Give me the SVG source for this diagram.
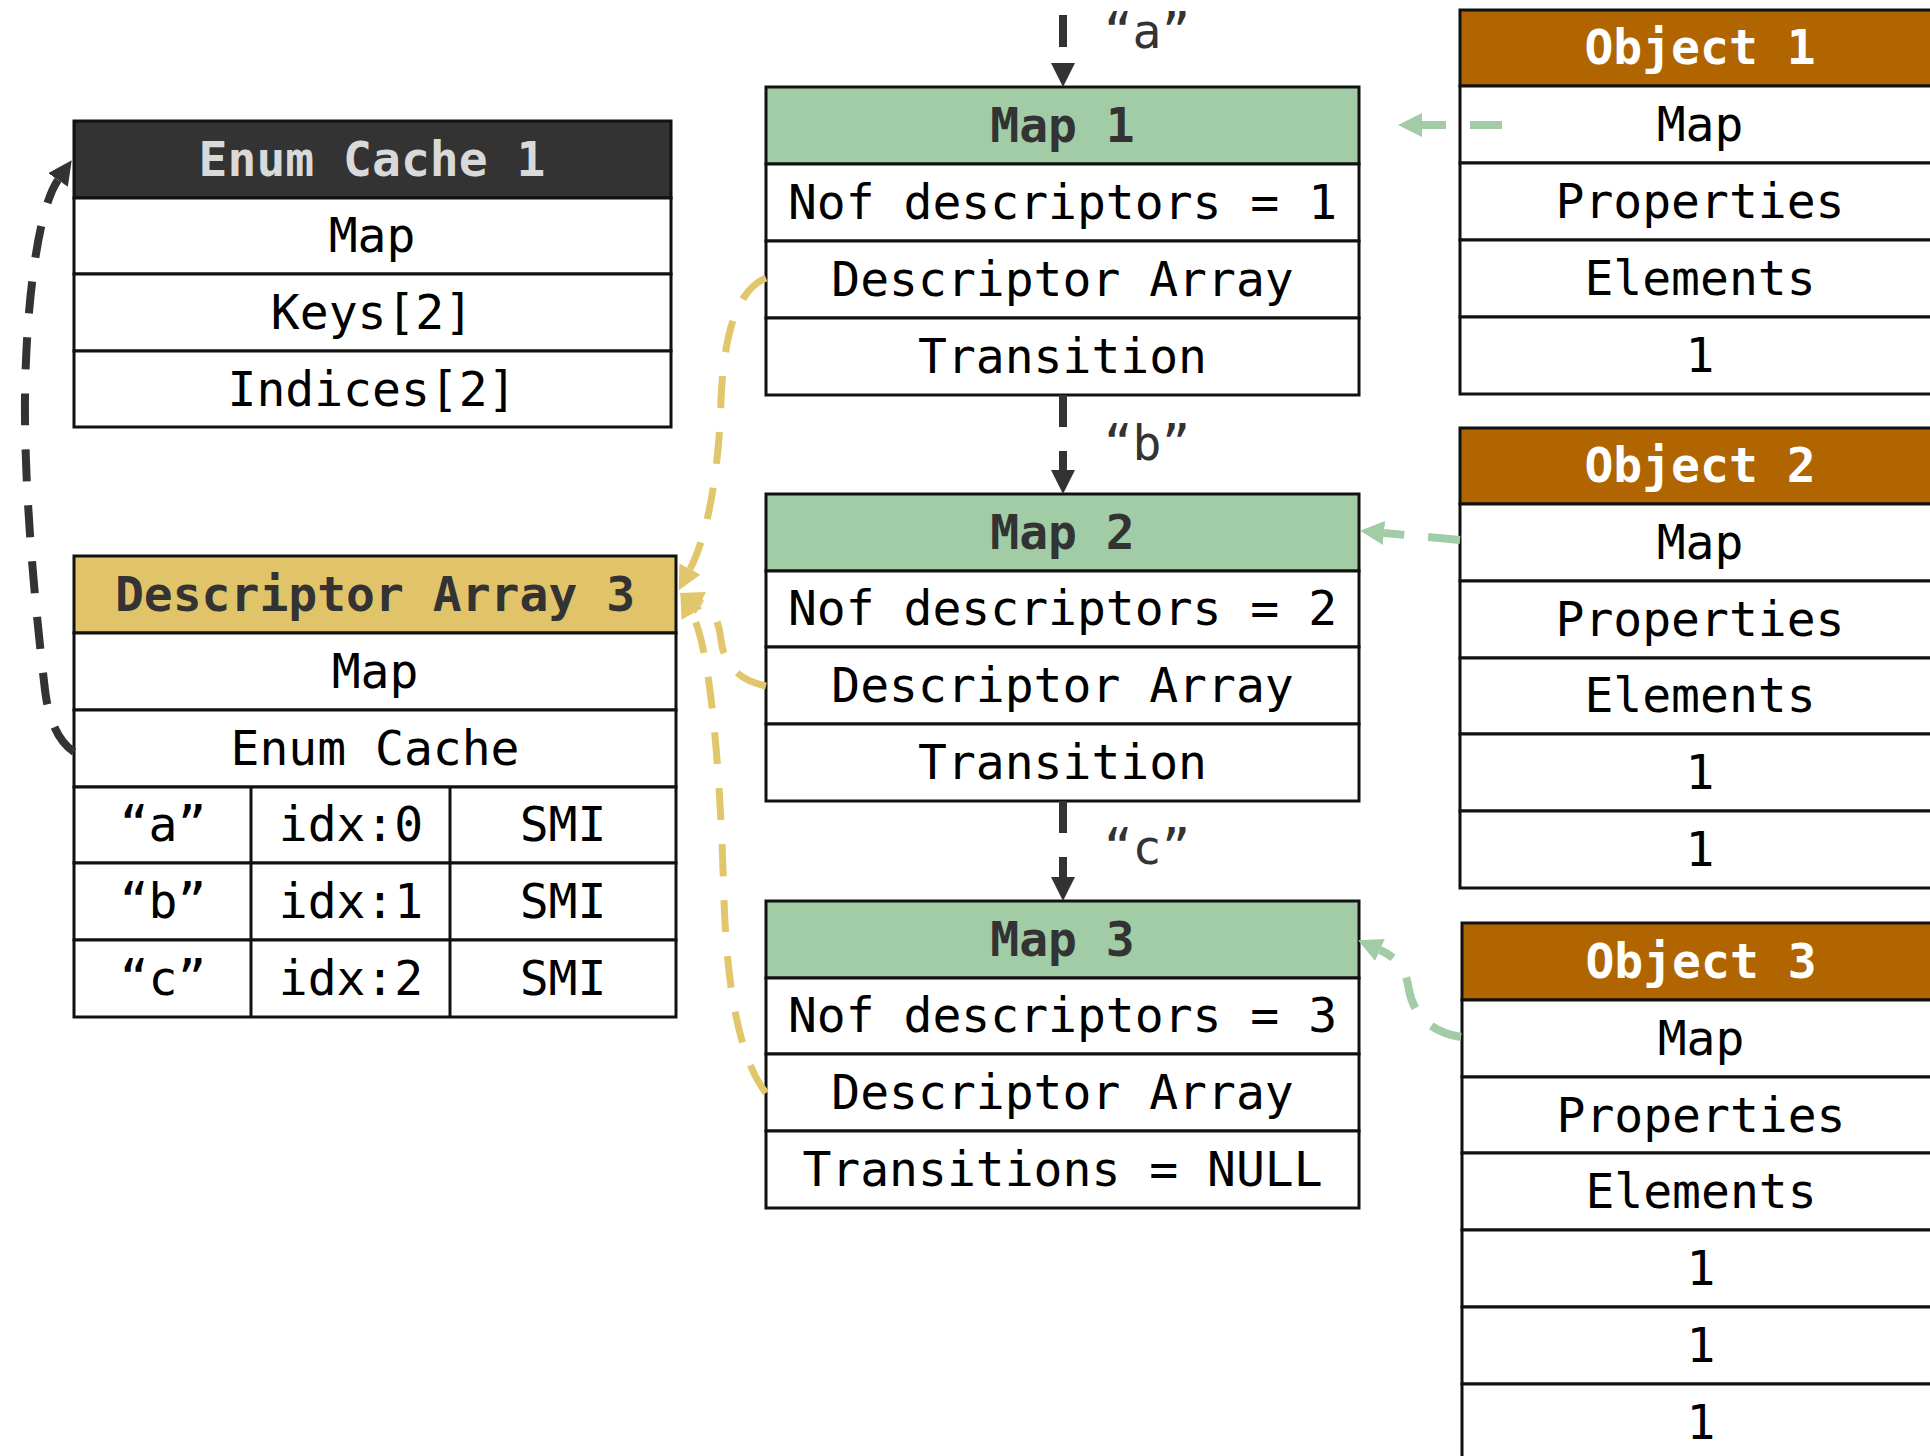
<svg xmlns="http://www.w3.org/2000/svg" width="1930" height="1456" viewBox="0 0 1930 1456">
<style>
.cell{fill:#fff;stroke:#111;stroke-width:3}
.t{font-family:"DejaVu Sans Mono","Liberation Mono",monospace;font-size:48px;text-anchor:middle;fill:#000}
.h{font-weight:bold}
.lbl{font-family:"DejaVu Sans Mono","Liberation Mono",monospace;font-size:48px;text-anchor:middle;fill:#333}
.hd-dark{fill:#333;stroke:#111;stroke-width:3}
.hd-green{fill:#a2cca6;stroke:#111;stroke-width:3}
.hd-yellow{fill:#e1c46a;stroke:#111;stroke-width:3}
.hd-brown{fill:#b06500;stroke:#111;stroke-width:3}
.c-dark{fill:none;stroke:#333;stroke-width:8;stroke-dasharray:32 24}
.c-green{fill:none;stroke:#a2cca6;stroke-width:8;stroke-dasharray:32 24}
.c-yellow{fill:none;stroke:#e2c66b;stroke-width:7;stroke-dasharray:32 24}
</style>
<defs>
<marker id="ad" viewBox="0 0 24 24" markerWidth="24" markerHeight="24" markerUnits="userSpaceOnUse" refX="0" refY="12" orient="auto"><path d="M0,0 L24,12 L0,24 z" fill="#333"/></marker>
<marker id="ag" viewBox="0 0 24 24" markerWidth="24" markerHeight="24" markerUnits="userSpaceOnUse" refX="0" refY="12" orient="auto"><path d="M0,0 L24,12 L0,24 z" fill="#a2cca6"/></marker>
<marker id="ay" viewBox="0 0 24 24" markerWidth="24" markerHeight="24" markerUnits="userSpaceOnUse" refX="0" refY="12" orient="auto"><path d="M0,0 L24,12 L0,24 z" fill="#e2c66b"/></marker>
</defs>
<rect width="1930" height="1456" fill="#fff"/>

<g id="enum-cache-1">
<rect class="hd-dark" x="74" y="121" width="597" height="77"/>
<rect class="cell" x="74" y="198" width="597" height="76"/>
<rect class="cell" x="74" y="274" width="597" height="77"/>
<rect class="cell" x="74" y="351" width="597" height="76"/>
<text class="t h" x="372" y="175.5" fill="#d9d9d9" style="fill:#d9d9d9">Enum Cache 1</text>
<text class="t" x="372" y="252">Map</text>
<text class="t" x="372" y="328.5">Keys[2]</text>
<text class="t" x="372" y="405.5">Indices[2]</text>
</g>

<g id="descriptor-array-3">
<rect class="hd-yellow" x="74" y="556" width="602" height="77"/>
<rect class="cell" x="74" y="633" width="602" height="77"/>
<rect class="cell" x="74" y="710" width="602" height="77"/>
<rect class="cell" x="74" y="787" width="602" height="76"/>
<rect class="cell" x="74" y="863" width="602" height="77"/>
<rect class="cell" x="74" y="940" width="602" height="77"/>
<line x1="251" y1="787" x2="251" y2="1017" stroke="#111" stroke-width="3"/>
<line x1="450" y1="787" x2="450" y2="1017" stroke="#111" stroke-width="3"/>
<text class="t h" x="375" y="610.5" style="fill:#333">Descriptor Array 3</text>
<text class="t" x="375" y="687.5">Map</text>
<text class="t" x="375" y="764.5">Enum Cache</text>
<text class="t" x="163" y="841">“a”</text>
<text class="t" x="351" y="841">idx:0</text>
<text class="t" x="563" y="841">SMI</text>
<text class="t" x="163" y="917.5">“b”</text>
<text class="t" x="351" y="917.5">idx:1</text>
<text class="t" x="563" y="917.5">SMI</text>
<text class="t" x="163" y="994.5">“c”</text>
<text class="t" x="351" y="994.5">idx:2</text>
<text class="t" x="563" y="994.5">SMI</text>
</g>

<g id="map-1">
<rect class="hd-green" x="766" y="87" width="593" height="77"/>
<rect class="cell" x="766" y="164" width="593" height="77"/>
<rect class="cell" x="766" y="241" width="593" height="77"/>
<rect class="cell" x="766" y="318" width="593" height="77"/>
<text class="t h" x="1062.5" y="141.5" style="fill:#333">Map 1</text>
<text class="t" x="1062.5" y="218.5">Nof descriptors = 1</text>
<text class="t" x="1062.5" y="295.5">Descriptor Array</text>
<text class="t" x="1062.5" y="372.5">Transition</text>
</g>

<g id="map-2">
<rect class="hd-green" x="766" y="494" width="593" height="77"/>
<rect class="cell" x="766" y="571" width="593" height="76"/>
<rect class="cell" x="766" y="647" width="593" height="77"/>
<rect class="cell" x="766" y="724" width="593" height="77"/>
<text class="t h" x="1062.5" y="548.5" style="fill:#333">Map 2</text>
<text class="t" x="1062.5" y="625">Nof descriptors = 2</text>
<text class="t" x="1062.5" y="701.5">Descriptor Array</text>
<text class="t" x="1062.5" y="778.5">Transition</text>
</g>

<g id="map-3">
<rect class="hd-green" x="766" y="901" width="593" height="77"/>
<rect class="cell" x="766" y="978" width="593" height="76"/>
<rect class="cell" x="766" y="1054" width="593" height="77"/>
<rect class="cell" x="766" y="1131" width="593" height="77"/>
<text class="t h" x="1062.5" y="955.5" style="fill:#333">Map 3</text>
<text class="t" x="1062.5" y="1032">Nof descriptors = 3</text>
<text class="t" x="1062.5" y="1108.5">Descriptor Array</text>
<text class="t" x="1062.5" y="1185.5">Transitions = NULL</text>
</g>

<g id="object-1">
<rect class="hd-brown" x="1460" y="10" width="480" height="76"/>
<rect class="cell" x="1460" y="86" width="480" height="77"/>
<rect class="cell" x="1460" y="163" width="480" height="77"/>
<rect class="cell" x="1460" y="240" width="480" height="77"/>
<rect class="cell" x="1460" y="317" width="480" height="77"/>
<text class="t h" x="1700" y="64" style="fill:#fff">Object 1</text>
<text class="t" x="1700" y="140.5">Map</text>
<text class="t" x="1700" y="217.5">Properties</text>
<text class="t" x="1700" y="294.5">Elements</text>
<text class="t" x="1700" y="371.5">1</text>
</g>

<g id="object-2">
<rect class="hd-brown" x="1460" y="428" width="480" height="76"/>
<rect class="cell" x="1460" y="504" width="480" height="77"/>
<rect class="cell" x="1460" y="581" width="480" height="77"/>
<rect class="cell" x="1460" y="658" width="480" height="76"/>
<rect class="cell" x="1460" y="734" width="480" height="77"/>
<rect class="cell" x="1460" y="811" width="480" height="77"/>
<text class="t h" x="1700" y="482" style="fill:#fff">Object 2</text>
<text class="t" x="1700" y="558.5">Map</text>
<text class="t" x="1700" y="635.5">Properties</text>
<text class="t" x="1700" y="712">Elements</text>
<text class="t" x="1700" y="788.5">1</text>
<text class="t" x="1700" y="865.5">1</text>
</g>

<g id="object-3">
<rect class="hd-brown" x="1462" y="923" width="480" height="77"/>
<rect class="cell" x="1462" y="1000" width="480" height="77"/>
<rect class="cell" x="1462" y="1077" width="480" height="76"/>
<rect class="cell" x="1462" y="1153" width="480" height="77"/>
<rect class="cell" x="1462" y="1230" width="480" height="77"/>
<rect class="cell" x="1462" y="1307" width="480" height="77"/>
<rect class="cell" x="1462" y="1384" width="480" height="77"/>
<text class="t h" x="1701" y="977.5" style="fill:#fff">Object 3</text>
<text class="t" x="1701" y="1054.5">Map</text>
<text class="t" x="1701" y="1131.5">Properties</text>
<text class="t" x="1701" y="1207.5">Elements</text>
<text class="t" x="1701" y="1284.5">1</text>
<text class="t" x="1701" y="1361.5">1</text>
<text class="t" x="1701" y="1438.5">1</text>
</g>

<g id="connectors">
<path class="c-dark" d="M1063,15 L1063,63" marker-end="url(#ad)"/>
<path class="c-dark" d="M1063,395 L1063,470" marker-end="url(#ad)"/>
<path class="c-dark" d="M1063,801 L1063,877" marker-end="url(#ad)"/>
<text class="lbl" x="1147" y="48">“a”</text>
<text class="lbl" x="1147" y="460">“b”</text>
<text class="lbl" x="1147" y="864">“c”</text>
<path class="c-green" d="M1502,125 L1422,125" marker-end="url(#ag)"/>
<path class="c-green" d="M1460,540 L1384,533" marker-end="url(#ag)"/>
<path class="c-green" d="M1461,1037 C1428,1032 1413,1012 1409,990 C1406,970 1398,958 1380,950" marker-end="url(#ag)"/>
<path class="c-yellow" d="M766,278 C738,290 724,330 721,400 C719,470 708,535 690,569" marker-end="url(#ay)"/>
<path class="c-yellow" d="M766,686 C738,680 724,665 721,640 C719,620 712,608 701,603" marker-end="url(#ay)"/>
<path class="c-yellow" d="M766,1093 C740,1060 727,990 724,900 C721,790 712,650 692,614" marker-end="url(#ay)"/>
<path class="c-dark" d="M74,752 C56,740 48,715 45,690 C38,630 26,520 25,420 C24,330 35,213 58,180" marker-end="url(#ad)"/>
</g>
</svg>
